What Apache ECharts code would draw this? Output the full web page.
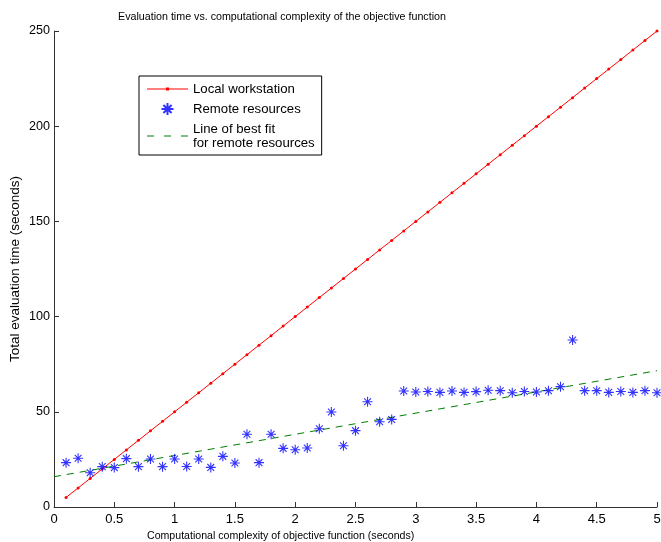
<!DOCTYPE html>
<html>
<head>
<meta charset="utf-8">
<script src="https://cdn.jsdelivr.net/npm/echarts@6/dist/echarts.min.js"></script>
<style>
  html, body { margin: 0; padding: 0; background: #fff; }
  #chart { width: 661px; height: 542px; }
</style>
</head>
<body>
<div id="chart"></div>
<script>
// x values: computational complexity (seconds)
const complexity = [
  0.1, 0.2, 0.3, 0.4, 0.5, 0.6, 0.7, 0.8, 0.9, 1.0,
  1.1, 1.2, 1.3, 1.4, 1.5, 1.6, 1.7, 1.8, 1.9, 2.0,
  2.1, 2.2, 2.3, 2.4, 2.5, 2.6, 2.7, 2.8, 2.9, 3.0,
  3.1, 3.2, 3.3, 3.4, 3.5, 3.6, 3.7, 3.8, 3.9, 4.0,
  4.1, 4.2, 4.3, 4.4, 4.5, 4.6, 4.7, 4.8, 4.9, 5.0
]
const localTimes = [
  5, 10, 15, 20, 25, 30, 35, 40, 45, 50,
  55, 60, 65, 70, 75, 80, 85, 90, 95, 100,
  105, 110, 115, 120, 125, 130, 135, 140, 145, 150,
  155, 160, 165, 170, 175, 180, 185, 190, 195, 200,
  205, 210, 215, 220, 225, 230, 235, 240, 245, 250
]
const remoteTimes = [
  23.3, 25.6, 18.0, 21.2, 20.7, 25.4, 21.2, 25.2, 21.2, 25.2,
  21.3, 25.2, 20.8, 26.6, 23.1, 38.2, 23.3, 38.2, 30.8, 30.1,
  31.0, 41.1, 49.9, 32.2, 40.1, 55.3, 44.8, 46.0, 60.9, 60.4,
  60.7, 60.2, 60.9, 60.2, 60.6, 61.3, 61.1, 60.0, 60.7, 60.4,
  61.1, 63.2, 87.7, 61.1, 61.1, 60.2, 60.7, 60.2, 61.1, 60.0
]
// line of best fit endpoints
const fitX = [0, 5]
const fitY = [15.9, 71.6]

const FONT = 'Liberation Sans'
const asterisk = 'path://M5,0L5,10M0,5L10,5M1.6,1.6L8.4,8.4M8.4,1.6L1.6,8.4'
// legend icons drawn at 41x12, the leading moves fix the bounding box
const iconLocal = 'path://M0,0M41,12M0,5.5h41v1h-41zM19,4.5h3v3h-3z'
const iconFit = 'path://M0,0M41,12M0,5.5h7v1h-7zM17,5.5h7v1h-7zM34,5.5h7v1h-7z'

const LOCAL = 'Local workstation'
const REMOTE = 'Remote resources'
const FIT = 'Line of best fit\nfor remote resources'

const zip = (xs, ys) => xs.map((x, i) => [x, ys[i]])

const chart = echarts.init(document.getElementById('chart'))

chart.setOption({
  animation: false,
  backgroundColor: '#fff',
  textStyle: { fontFamily: FONT },
  title: [
    {
      text: 'Evaluation time vs. computational complexity of the objective function',
      left: 113, top: 7,
      textStyle: { fontFamily: FONT, fontSize: 10.7, fontWeight: 'normal', color: '#000' }
    },
    {
      text: 'Computational complexity of objective function (seconds)',
      left: 142, top: 526,
      textStyle: { fontFamily: FONT, fontSize: 10.6, fontWeight: 'normal', color: '#000' }
    }
  ],
  grid: { left: 54, right: 4, top: 31, bottom: 35, outerBoundsMode: 'none', containLabel: false },
  legend: {
    orient: 'vertical',
    left: 139, top: 76,
    padding: [6, 7, 5, 8],
    itemGap: 6,
    itemWidth: 41,
    itemHeight: 12,
    backgroundColor: '#fff',
    borderColor: '#000',
    borderWidth: 1,
    borderRadius: 0,
    textStyle: { fontFamily: FONT, fontSize: 13.2, color: '#000', lineHeight: 14 },
    data: [
      { name: LOCAL, icon: iconLocal },
      { name: REMOTE },
      { name: FIT, icon: iconFit }
    ]
  },
  xAxis: {
    type: 'value',
    min: 0, max: 5, interval: 0.5,
    axisLine: { lineStyle: { color: '#333', width: 1 } },
    axisTick: { inside: true, length: 5, lineStyle: { color: '#333' } },
    axisLabel: { color: '#000', fontSize: 13, margin: 6, fontFamily: FONT },
    splitLine: { show: false }
  },
  yAxis: {
    type: 'value',
    min: 0, max: 250, interval: 50,
    name: 'Total evaluation time (seconds)',
    nameLocation: 'middle',
    nameGap: 32,
    nameMoveOverlap: false,
    nameTextStyle: { color: '#000', fontSize: 13.5, fontFamily: FONT },
    axisLine: { show: true, lineStyle: { color: '#333', width: 1 } },
    axisTick: { show: true, inside: true, length: 5, lineStyle: { color: '#333' } },
    axisLabel: { color: '#000', fontSize: 12.6, margin: 4, fontFamily: FONT },
    splitLine: { show: false }
  },
  series: [
    {
      name: LOCAL,
      type: 'line',
      data: zip(complexity, localTimes),
      symbol: 'circle',
      symbolSize: 3,
      showSymbol: true,
      lineStyle: { color: '#ff0000', width: 1 },
      itemStyle: { color: '#ff0000' },
      z: 3
    },
    {
      name: REMOTE,
      type: 'scatter',
      data: zip(complexity, remoteTimes),
      symbol: asterisk,
      symbolSize: 10,
      itemStyle: { color: '#0000ff', borderColor: '#0000ff', borderWidth: 1.1 },
      z: 4
    },
    {
      name: FIT,
      type: 'line',
      data: zip(fitX, fitY),
      symbol: 'none',
      lineStyle: { color: '#008000', width: 1, type: [7, 6] },
      itemStyle: { color: '#008000' },
      z: 2
    }
  ]
})
</script>
</body>
</html>
